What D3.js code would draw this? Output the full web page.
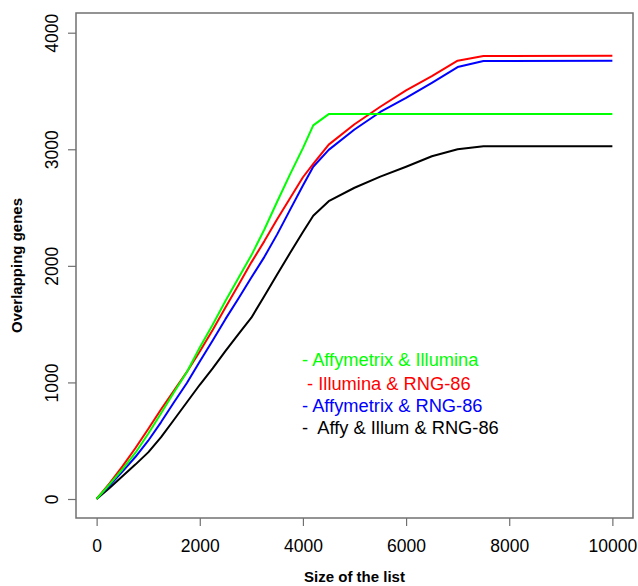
<!DOCTYPE html>
<html>
<head>
<meta charset="utf-8">
<script src="https://cdn.jsdelivr.net/npm/d3@7"></script>
<style>
  body { margin: 0; background: #fff; }
  svg { display: block; font-family: "Liberation Sans", Arial, sans-serif; }
</style>
</head>
<body>
<svg id="chart" width="638" height="586"></svg>
<script>
// data
const listSize = [0, 250, 500, 750, 1000, 1250, 1500, 1750, 2000, 2250, 2500, 2750, 3000,
                  3250, 3500, 3750, 4000, 4200, 4500, 5000, 5500, 6000, 6500, 7000, 7500, 10000];

const affyIllum = [0, 125, 255, 395, 560, 735, 915, 1090, 1300, 1495, 1700, 1895, 2090,
                   2310, 2550, 2785, 3010, 3205, 3302, 3302, 3302, 3302, 3302, 3302, 3302, 3302];
const illumRng  = [0, 135, 280, 435, 600, 770, 930, 1090, 1265, 1450, 1645, 1835, 2030,
                   2210, 2400, 2580, 2760, 2875, 3040, 3215, 3365, 3505, 3628, 3760, 3800, 3802];
const affyRng   = [0, 115, 235, 360, 500, 660, 830, 995, 1180, 1360, 1545, 1720, 1900,
                   2075, 2270, 2480, 2690, 2850, 2995, 3170, 3320, 3440, 3570, 3705, 3757, 3760];
const allThree  = [0, 95, 195, 295, 400, 530, 680, 830, 980, 1120, 1270, 1415, 1555,
                   1740, 1925, 2110, 2290, 2430, 2555, 2670, 2765, 2850, 2940, 3000, 3025, 3027];

const seriesNames  = ["Affymetrix & Illumina", "Illumina & RNG-86", "Affymetrix & RNG-86", "Affy & Illum & RNG-86"];
const legendLabels = ["- Affymetrix & Illumina", " - Illumina & RNG-86", "- Affymetrix & RNG-86", "-  Affy & Illum & RNG-86"];
const seriesColors = ["#00ff00", "#ff0000", "#0000ff", "#000000"];

const xTicks = [0, 2000, 4000, 6000, 8000, 10000];
const yTicks = [0, 1000, 2000, 3000, 4000];

const series = [affyIllum, illumRng, affyRng, allThree].map((vals, i) => ({
  name: seriesNames[i],
  label: legendLabels[i],
  color: seriesColors[i],
  values: vals.map((v, j) => ({ x: listSize[j], y: v }))
}));

const svg = d3.select("#chart");

// plot box
const box = { left: 76, top: 13, right: 633, bottom: 518 };

const x = d3.scaleLinear().domain([-400, 10400]).range([box.left, box.right]);
const y = d3.scaleLinear().domain([-163, 4169]).range([box.bottom, box.top]);

// lines
const line = d3.line().x(d => x(d.x)).y(d => y(d.y));

// draw black first so the coloured ones sit on top, like the original
svg.append("g")
  .selectAll("path")
  .data(series.slice().reverse())
  .join("path")
    .attr("d", d => line(d.values))
    .attr("fill", "none")
    .attr("stroke", d => d.color)
    .attr("stroke-width", 2)
    .attr("stroke-linejoin", "round");

// box
svg.append("rect")
  .attr("x", box.left)
  .attr("y", box.top)
  .attr("width", box.right - box.left)
  .attr("height", box.bottom - box.top)
  .attr("fill", "none")
  .attr("stroke", "#707070")
  .attr("stroke-width", 1.5);

// x axis
const xAxis = svg.append("g")
  .attr("transform", `translate(0,${box.bottom})`)
  .call(d3.axisBottom(x).tickValues(xTicks).tickSize(8).tickPadding(14).tickFormat(d3.format("d")));
xAxis.select(".domain").remove();
xAxis.selectAll("line").attr("stroke", "#707070").attr("stroke-width", 1.2);
xAxis.selectAll("text")
  .attr("fill", "#000")
  .style("font-size", "17.5px")
  .style("font-family", "Liberation Sans, Arial, sans-serif");

// y axis (labels rotated, as R does by default)
const yAxis = svg.append("g")
  .attr("transform", `translate(${box.left},0)`)
  .call(d3.axisLeft(y).tickValues(yTicks).tickSize(8).tickFormat(d3.format("d")));
yAxis.select(".domain").remove();
yAxis.selectAll("line").attr("stroke", "#707070").attr("stroke-width", 1.2);
yAxis.selectAll("text")
  .attr("x", null)
  .attr("dy", null)
  .attr("fill", "#000")
  .attr("text-anchor", "middle")
  .attr("transform", "translate(-18,0) rotate(-90)")
  .style("font-size", "17.5px")
  .style("font-family", "Liberation Sans, Arial, sans-serif");

// axis titles
svg.append("text")
  .attr("x", (box.left + box.right) / 2)
  .attr("y", 582)
  .attr("text-anchor", "middle")
  .style("font-size", "15px")
  .style("font-weight", "bold")
  .text("Size of the list");

svg.append("text")
  .attr("transform", `translate(22,${(box.top + box.bottom) / 2}) rotate(-90)`)
  .attr("text-anchor", "middle")
  .style("font-size", "15px")
  .style("font-weight", "bold")
  .text("Overlapping genes");

// legend (plain text in the plot, no box)
const legendY = [366, 390, 412, 434];
svg.append("g")
  .selectAll("text")
  .data(series)
  .join("text")
    .attr("x", 302)
    .attr("y", (d, i) => legendY[i])
    .attr("fill", d => d.color)
    .style("font-size", "18.3px")
    .style("white-space", "pre")
    .attr("xml:space", "preserve")
    .text(d => d.label);
</script>
</body>
</html>
